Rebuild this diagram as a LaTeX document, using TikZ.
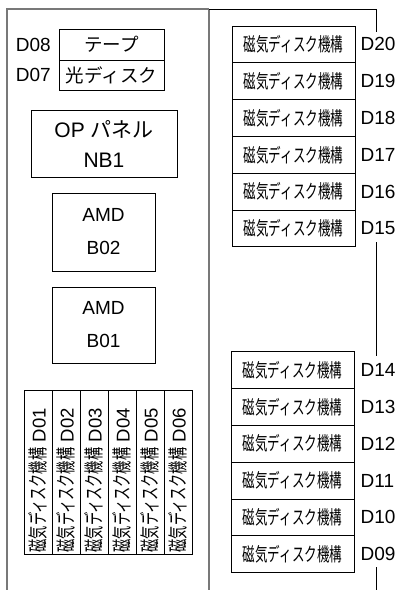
\documentclass[tikz,border=0pt]{standalone}
\usepackage{fontspec}
\setmainfont{Liberation Sans}
\newfontfamily\jp{Noto Sans CJK JP}
\newfontfamily\jpc[FakeStretch=0.66]{Noto Sans CJK JP}
\definecolor{framegray}{RGB}{120,120,120}
\begin{document}
\begin{tikzpicture}[x=1pt,y=-1pt,
  box/.style={draw, line width=0.8pt, inner sep=0pt, outer sep=0pt},
  lab/.style={inner sep=0pt, font=\fontsize{19}{22}\selectfont},
  rbox/.style={box, minimum width=123pt, minimum height=36.8pt, font=\fontsize{19}{20}\selectfont},
  vbox/.style={box, minimum width=28pt, minimum height=164pt},
  vtext/.style={rotate=90, anchor=west, inner sep=0pt, font=\fontsize{20}{20}\selectfont},
  frame/.style={draw=framegray, line width=1.6pt},
  rframe/.style={draw=black, line width=0.9pt}]
\useasboundingbox (0,0) rectangle (404,590);
% outer frame
\coordinate (fa) at (7,590);
\coordinate (fb) at (7,9);
\coordinate (fc) at (209,9);
\coordinate (fd) at (209,590);
\coordinate (fe) at (376,9);
\coordinate (ff) at (376,32);
\coordinate (fg) at (376,242);
\coordinate (fh) at (376,356);
\coordinate (fi) at (376,567);
\coordinate (fj) at (376,590);
\draw[frame] (fa) -- (fb) -- (fc);
\draw[frame] (fc) -- (fd);
\draw[rframe] (fc) -- (fe) -- (ff);
\draw[rframe] (fg) -- (fh);
\draw[rframe] (fi) -- (fj);
% left column
\node[box, minimum width=105pt, minimum height=31pt, font=\fontsize{18.5}{20}\selectfont\jp] (tape) at (111.5,44.5) {テープ};
\node[box, minimum width=105pt, minimum height=30pt, font=\fontsize{18.5}{20}\selectfont\jp] (odisk) at (111.5,75) {光ディスク};
\node[lab, anchor=east] (d08) at (51,45) {D08};
\node[lab, anchor=east] (d07) at (51,75) {D07};
\node[box, minimum width=146pt, minimum height=67pt, align=center, font=\fontsize{21}{30}\selectfont] (op) at (104,143.5) {OP {\jp パネル}\\NB1};
\node[box, minimum width=103pt, minimum height=78pt, align=center, font=\fontsize{19}{33}\selectfont] (b02) at (103.5,232) {AMD\\B02};
\node[box, minimum width=103pt, minimum height=76pt, align=center, font=\fontsize{19}{33}\selectfont] (b01) at (103.5,325) {AMD\\B01};
\foreach \i [count=\k from 0] in {01,02,03,04,05,06} {
  \node[vbox] (v\i) at ({38+28*\k},472) {};
  \node[vtext] (vt\i) at ({38+28*\k},552.5) {{\jpc 磁気ディスク機構} {\fontsize{18.5}{20}\selectfont D\i}};
}
% right column
\foreach \i [count=\k from 0] in {20,19,18,17,16,15} {
  \node[rbox] (r\i) at (293.5,{26+36.8*(\k+0.5)}) {\jpc 磁気ディスク機構};
  \node[lab, anchor=west] (l\i) at (360.5,{26+36.8*(\k+0.5)}) {D\i};
}
\foreach \i [count=\k from 0] in {14,13,12,11,10,09} {
  \node[rbox] (r\i) at (292.5,{351.7+36.8*(\k+0.5)}) {\jpc 磁気ディスク機構};
  \node[lab, anchor=west] (l\i) at (360.5,{351.7+36.8*(\k+0.5)}) {D\i};
}
\end{tikzpicture}
\end{document}
